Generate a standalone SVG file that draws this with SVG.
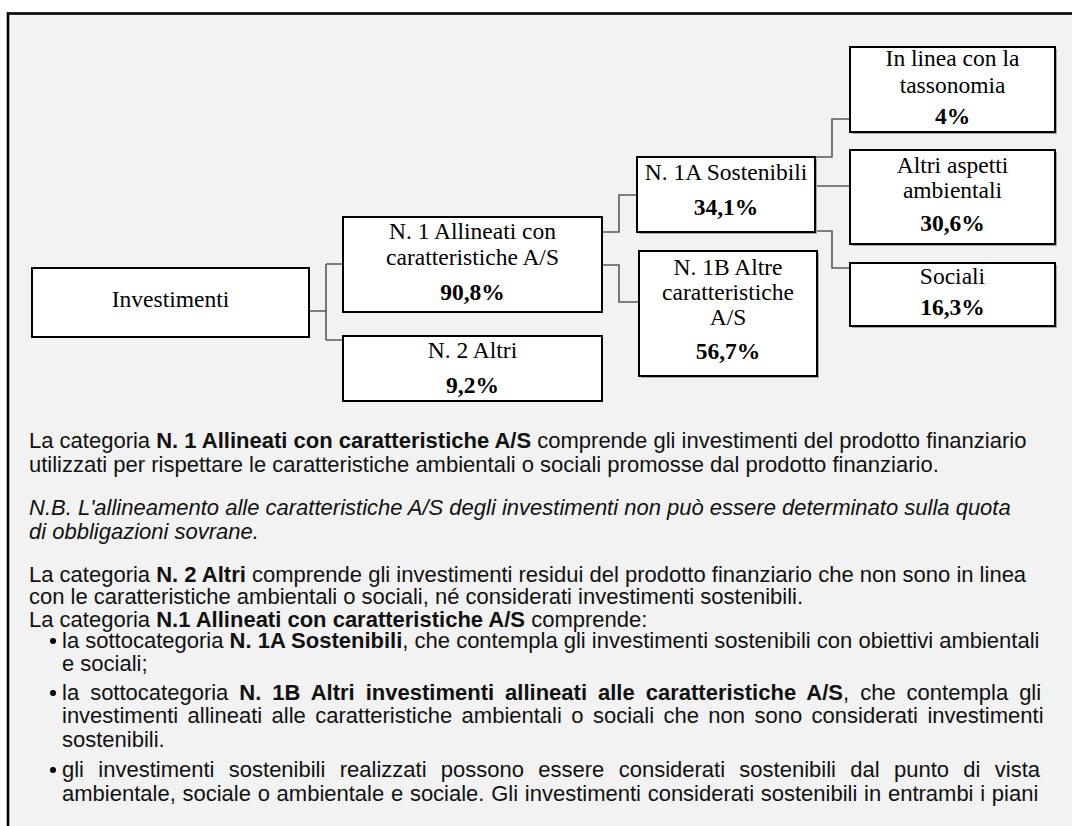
<svg xmlns="http://www.w3.org/2000/svg" width="1072" height="826" viewBox="0 0 1072 826">
<style>
.node rect.box{fill:#ffffff;stroke:#000000;stroke-width:2}
.node rect.sh{fill:#a6a6a6}
.nt{font-family:"Liberation Serif","Times New Roman",serif;font-size:23.5px;fill:#000;text-anchor:middle}
.nb{font-weight:bold}
.body{font-family:"Liberation Sans",Arial,sans-serif;font-size:22px;fill:#111}
.b{font-weight:bold}
.i{font-style:italic}
.conn{fill:none;stroke:#595959;stroke-width:1.6}
</style>
<rect x="0" y="0" width="1072" height="826" fill="#ffffff"/>
<rect x="8" y="13.5" width="1080" height="830" fill="#f2f2f2" stroke="#000000" stroke-width="2.6"/>

<g id="connectors">
<path class="conn" d="M309 311 H326 M326 264 V340 M326 264 H343 M326 340 H343"/>
<path class="conn" d="M602 232 H619 V195 H637"/>
<path class="conn" d="M602 265 H619 V302 H639"/>
<path class="conn" d="M815 157 H832 V119 H850"/>
<path class="conn" d="M815 186 H850"/>
<path class="conn" d="M815 231 H832 V268 H850"/>
</g>

<g id="investimenti" class="node">
<rect class="box" x="32" y="268" width="277" height="69"/>
<text class="nt" x="170.5" y="307">Investimenti</text>
</g>

<g id="n1" class="node">
<rect class="box" x="343" y="217" width="259" height="95"/>
<text class="nt" x="472.5" y="239">N. 1 Allineati con</text>
<text class="nt" x="472.5" y="265">caratteristiche A/S</text>
<text class="nt nb" x="472.5" y="300">90,8%</text>
</g>

<g id="n2" class="node">
<rect class="box" x="343" y="336" width="259" height="65"/>
<text class="nt" x="472.5" y="358">N. 2 Altri</text>
<text class="nt nb" x="472.5" y="393">9,2%</text>
</g>

<g id="n1a" class="node">
<rect class="sh" x="639" y="159" width="178" height="75"/>
<rect class="box" x="637" y="157" width="178" height="75"/>
<text class="nt" x="726" y="180">N. 1A Sostenibili</text>
<text class="nt nb" x="726" y="215">34,1%</text>
</g>

<g id="n1b" class="node">
<rect class="sh" x="641" y="253" width="178" height="125"/>
<rect class="box" x="639" y="251" width="178" height="125"/>
<text class="nt" x="728" y="275">N. 1B Altre</text>
<text class="nt" x="728" y="300">caratteristiche</text>
<text class="nt" x="728" y="325">A/S</text>
<text class="nt nb" x="728" y="359">56,7%</text>
</g>

<g id="tassonomia" class="node">
<rect class="sh" x="852" y="49" width="205" height="85"/>
<rect class="box" x="850" y="47" width="205" height="85"/>
<text class="nt" x="952.5" y="66">In linea con la</text>
<text class="nt" x="952.5" y="93">tassonomia</text>
<text class="nt nb" x="952.5" y="124">4%</text>
</g>

<g id="ambientali" class="node">
<rect class="sh" x="852" y="152" width="205" height="94"/>
<rect class="box" x="850" y="150" width="205" height="94"/>
<text class="nt" x="952.5" y="173">Altri aspetti</text>
<text class="nt" x="952.5" y="198">ambientali</text>
<text class="nt nb" x="952.5" y="231">30,6%</text>
</g>

<g id="sociali" class="node">
<rect class="sh" x="852" y="265" width="205" height="63"/>
<rect class="box" x="850" y="263" width="205" height="63"/>
<text class="nt" x="952.5" y="284">Sociali</text>
<text class="nt nb" x="952.5" y="315">16,3%</text>
</g>

<g id="text">
<text class="body" x="29" y="448">La categoria <tspan class="b">N. 1 Allineati con caratteristiche A/S</tspan> comprende gli investimenti del prodotto finanziario</text>
<text class="body" x="29" y="472">utilizzati per rispettare le caratteristiche ambientali o sociali promosse dal prodotto finanziario.</text>
<text class="body i" x="29" y="515">N.B. L'allineamento alle caratteristiche A/S degli investimenti non può essere determinato sulla quota</text>
<text class="body i" x="29" y="539">di obbligazioni sovrane.</text>
<text class="body" x="29" y="582">La categoria <tspan class="b">N. 2 Altri</tspan> comprende gli investimenti residui del prodotto finanziario che non sono in linea</text>
<text class="body" x="29" y="604">con le caratteristiche ambientali o sociali, né considerati investimenti sostenibili.</text>
<text class="body" x="29" y="627">La categoria <tspan class="b">N.1 Allineati con caratteristiche A/S</tspan> comprende:</text>
<circle cx="53" cy="641" r="3"/>
<text class="body" x="62" y="648">la sottocategoria <tspan class="b">N. 1A Sostenibili</tspan>, che contempla gli investimenti sostenibili con obiettivi ambientali</text>
<text class="body" x="62" y="671">e sociali;</text>
<circle cx="53" cy="693" r="3"/>
<text class="body" x="62" y="700" word-spacing="4.9">la sottocategoria <tspan class="b">N. 1B Altri investimenti allineati alle caratteristiche A/S</tspan>, che contempla gli</text>
<text class="body" x="62" y="723" word-spacing="3.3">investimenti allineati alle caratteristiche ambientali o sociali che non sono considerati investimenti</text>
<text class="body" x="62" y="747">sostenibili.</text>
<circle cx="53" cy="770" r="3"/>
<text class="body" x="62" y="777" word-spacing="8.2">gli investimenti sostenibili realizzati possono essere considerati sostenibili dal punto di vista</text>
<text class="body" x="62" y="801" word-spacing="0.6">ambientale, sociale o ambientale e sociale. Gli investimenti considerati sostenibili in entrambi i piani</text>
</g>
</svg>
